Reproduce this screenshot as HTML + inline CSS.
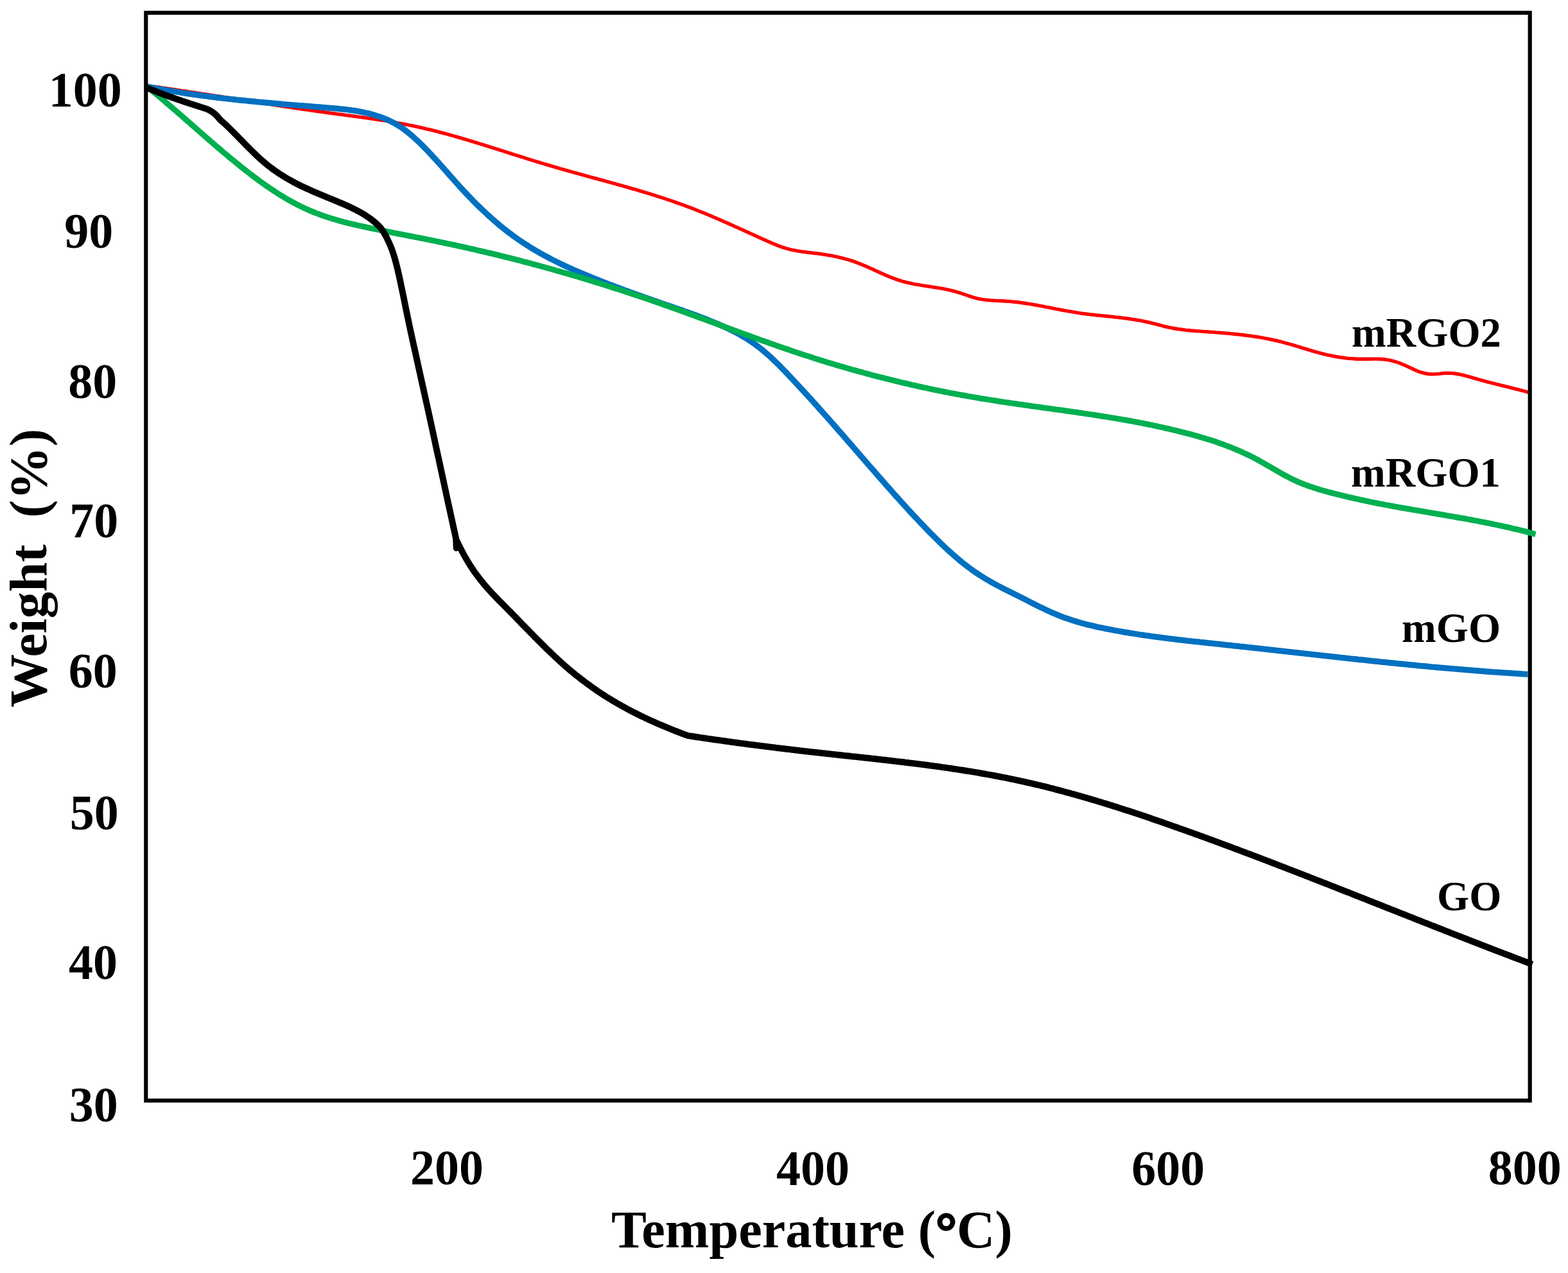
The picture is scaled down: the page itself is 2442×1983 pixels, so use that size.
<!DOCTYPE html>
<html lang="en">
<head>
<meta charset="utf-8">
<title>TGA curves: Weight (%) vs Temperature (°C)</title>
<style>
html,body{margin:0;padding:0;background:#ffffff;}
body{width:2442px;height:1983px;overflow:hidden;}
svg{display:block;}
</style>
</head>
<body>
<svg width="2442" height="1983" viewBox="0 0 2442 1983" role="img" aria-label="TGA curves of GO, mGO, mRGO1 and mRGO2: Weight (%) versus Temperature (°C)">
<rect x="0" y="0" width="2442" height="1983" fill="#ffffff"/>
<defs><clipPath id="cl"><rect x="229.00" y="0" width="2151.50" height="1983"/></clipPath><clipPath id="cr"><rect x="229.00" y="0" width="2163.00" height="1983"/></clipPath></defs>
<g fill="none" stroke-linejoin="round" stroke-linecap="butt" clip-path="url(#cl)">
<path id="c-red" d="M228.1 133.3 L231.1 133.7 L234.1 134.1 L237.1 134.6 L240.1 135.0 L243.1 135.4 L246.1 135.8 L249.1 136.2 L252.1 136.7 L255.1 137.1 L258.1 137.5 L261.1 138.0 L264.1 138.4 L267.1 138.8 L270.1 139.3 L273.1 139.7 L276.1 140.2 L279.1 140.6 L282.1 141.1 L285.1 141.5 L288.1 142.0 L291.1 142.4 L294.1 142.9 L297.1 143.3 L300.1 143.8 L303.1 144.2 L306.1 144.7 L309.1 145.1 L312.1 145.6 L315.1 146.1 L318.1 146.5 L321.1 147.0 L324.1 147.4 L327.1 147.9 L330.1 148.4 L333.1 148.8 L336.1 149.3 L339.1 149.8 L342.1 150.2 L345.1 150.7 L348.1 151.2 L351.1 151.6 L354.1 152.1 L357.1 152.6 L360.2 153.1 L363.2 153.5 L366.2 154.0 L369.2 154.5 L372.2 154.9 L375.2 155.4 L378.2 155.9 L381.2 156.3 L384.2 156.8 L387.2 157.3 L390.2 157.7 L393.2 158.2 L396.2 158.7 L399.2 159.1 L402.2 159.6 L405.2 160.1 L408.2 160.5 L411.2 161.0 L414.2 161.5 L417.2 161.9 L420.2 162.4 L423.2 162.8 L426.2 163.3 L429.2 163.8 L432.2 164.2 L435.2 164.7 L438.2 165.1 L441.2 165.6 L444.2 166.0 L447.2 166.5 L450.2 166.9 L453.2 167.4 L456.2 167.8 L459.2 168.3 L462.2 168.7 L465.2 169.2 L468.2 169.6 L471.2 170.0 L474.2 170.5 L477.2 170.9 L480.2 171.3 L483.2 171.8 L486.2 172.2 L489.2 172.6 L492.2 173.1 L495.2 173.5 L498.2 173.9 L501.2 174.3 L504.2 174.7 L507.2 175.1 L510.3 175.5 L513.3 176.0 L516.3 176.4 L519.3 176.8 L522.3 177.2 L525.3 177.6 L528.3 178.0 L531.3 178.4 L534.3 178.8 L537.3 179.2 L540.3 179.6 L543.3 180.0 L546.3 180.4 L549.3 180.8 L552.3 181.2 L555.3 181.6 L558.3 182.0 L561.3 182.4 L564.3 182.8 L567.3 183.2 L570.3 183.7 L573.3 184.1 L576.3 184.5 L579.3 185.0 L582.3 185.4 L585.3 185.9 L588.3 186.3 L591.3 186.8 L594.3 187.2 L597.3 187.7 L600.3 188.2 L603.3 188.7 L606.3 189.2 L609.3 189.7 L612.3 190.2 L615.3 190.7 L618.3 191.3 L621.3 191.8 L624.3 192.4 L627.3 192.9 L630.3 193.5 L633.3 194.1 L636.3 194.7 L639.3 195.3 L642.3 195.9 L645.3 196.5 L648.3 197.2 L651.3 197.8 L654.3 198.5 L657.4 199.2 L660.4 199.8 L663.4 200.6 L666.4 201.3 L669.4 202.0 L672.4 202.7 L675.4 203.5 L678.4 204.2 L681.4 205.0 L684.4 205.8 L687.4 206.6 L690.4 207.4 L693.4 208.2 L696.4 209.0 L699.4 209.8 L702.4 210.7 L705.4 211.5 L708.4 212.4 L711.4 213.2 L714.4 214.1 L717.4 214.9 L720.4 215.8 L723.4 216.7 L726.4 217.6 L729.4 218.5 L732.4 219.4 L735.4 220.3 L738.4 221.2 L741.4 222.1 L744.4 223.0 L747.4 224.0 L750.4 224.9 L753.4 225.8 L756.4 226.8 L759.4 227.7 L762.4 228.7 L765.4 229.6 L768.4 230.5 L771.4 231.5 L774.4 232.4 L777.4 233.4 L780.4 234.3 L783.4 235.3 L786.4 236.3 L789.4 237.2 L792.4 238.2 L795.4 239.1 L798.4 240.1 L801.4 241.0 L804.4 242.0 L807.5 242.9 L810.5 243.9 L813.5 244.8 L816.5 245.8 L819.5 246.7 L822.5 247.7 L825.5 248.6 L828.5 249.5 L831.5 250.5 L834.5 251.4 L837.5 252.3 L840.5 253.2 L843.5 254.1 L846.5 255.0 L849.5 255.9 L852.5 256.8 L855.5 257.7 L858.5 258.6 L861.5 259.5 L864.5 260.4 L867.5 261.2 L870.5 262.1 L873.5 263.0 L876.5 263.8 L879.5 264.7 L882.5 265.5 L885.5 266.4 L888.5 267.2 L891.5 268.0 L894.5 268.9 L897.5 269.7 L900.5 270.5 L903.5 271.4 L906.5 272.2 L909.5 273.0 L912.5 273.8 L915.5 274.6 L918.5 275.5 L921.5 276.3 L924.5 277.1 L927.5 277.9 L930.5 278.7 L933.5 279.6 L936.5 280.4 L939.5 281.2 L942.5 282.0 L945.5 282.8 L948.5 283.7 L951.5 284.5 L954.5 285.3 L957.6 286.1 L960.6 287.0 L963.6 287.8 L966.6 288.7 L969.6 289.5 L972.6 290.4 L975.6 291.2 L978.6 292.1 L981.6 292.9 L984.6 293.8 L987.6 294.7 L990.6 295.5 L993.6 296.4 L996.6 297.3 L999.6 298.2 L1002.6 299.1 L1005.6 300.0 L1008.6 300.9 L1011.6 301.8 L1014.6 302.8 L1017.6 303.7 L1020.6 304.6 L1023.6 305.6 L1026.6 306.6 L1029.6 307.5 L1032.6 308.5 L1035.6 309.5 L1038.6 310.5 L1041.6 311.5 L1044.6 312.5 L1047.6 313.5 L1050.6 314.6 L1053.6 315.6 L1056.6 316.7 L1059.6 317.8 L1062.6 318.8 L1065.6 319.9 L1068.6 321.1 L1071.6 322.2 L1074.6 323.3 L1077.6 324.4 L1080.6 325.6 L1083.6 326.8 L1086.6 328.0 L1089.6 329.2 L1092.6 330.4 L1095.6 331.6 L1098.6 332.8 L1101.6 334.1 L1104.6 335.3 L1107.7 336.6 L1110.7 337.9 L1113.7 339.1 L1116.7 340.4 L1119.7 341.7 L1122.7 343.0 L1125.7 344.4 L1128.7 345.7 L1131.7 347.0 L1134.7 348.3 L1137.7 349.7 L1140.7 351.0 L1143.7 352.4 L1146.7 353.7 L1149.7 355.1 L1152.7 356.4 L1155.7 357.8 L1158.7 359.1 L1161.7 360.5 L1164.7 361.8 L1167.7 363.2 L1170.7 364.6 L1173.7 365.9 L1176.7 367.3 L1179.7 368.7 L1182.7 370.0 L1185.7 371.4 L1188.7 372.7 L1191.7 374.1 L1194.7 375.4 L1197.7 376.8 L1200.7 378.1 L1203.7 379.4 L1206.7 380.6 L1209.7 381.9 L1212.7 383.0 L1215.7 384.1 L1218.7 385.2 L1221.7 386.1 L1224.7 387.0 L1227.7 387.8 L1230.7 388.6 L1233.7 389.3 L1236.7 389.9 L1239.7 390.4 L1242.7 391.0 L1245.7 391.4 L1248.7 391.9 L1251.7 392.3 L1254.7 392.7 L1257.8 393.1 L1260.8 393.5 L1263.8 393.8 L1266.8 394.2 L1269.8 394.5 L1272.8 394.9 L1275.8 395.3 L1278.8 395.7 L1281.8 396.2 L1284.8 396.6 L1287.8 397.1 L1290.8 397.6 L1293.8 398.1 L1296.8 398.7 L1299.8 399.3 L1302.8 399.9 L1305.8 400.6 L1308.8 401.3 L1311.8 402.0 L1314.8 402.8 L1317.8 403.6 L1320.8 404.5 L1323.8 405.4 L1326.8 406.4 L1329.8 407.4 L1332.8 408.4 L1335.8 409.6 L1338.8 410.7 L1341.8 411.9 L1344.8 413.2 L1347.8 414.5 L1350.8 415.8 L1353.8 417.1 L1356.8 418.5 L1359.8 419.8 L1362.8 421.2 L1365.8 422.6 L1368.8 423.9 L1371.8 425.3 L1374.8 426.6 L1377.8 427.9 L1380.8 429.2 L1383.8 430.5 L1386.8 431.7 L1389.8 432.9 L1392.8 434.0 L1395.8 435.1 L1398.8 436.1 L1401.8 437.1 L1404.8 438.0 L1407.9 438.8 L1410.9 439.6 L1413.9 440.3 L1416.9 441.0 L1419.9 441.7 L1422.9 442.3 L1425.9 442.8 L1428.9 443.4 L1431.9 443.9 L1434.9 444.4 L1437.9 444.9 L1440.9 445.3 L1443.9 445.8 L1446.9 446.2 L1449.9 446.7 L1452.9 447.1 L1455.9 447.6 L1458.9 448.1 L1461.9 448.6 L1464.9 449.1 L1467.9 449.6 L1470.9 450.2 L1473.9 450.8 L1476.9 451.4 L1479.9 452.1 L1482.9 452.8 L1485.9 453.6 L1488.9 454.4 L1491.9 455.3 L1494.9 456.2 L1497.9 457.2 L1500.9 458.3 L1503.9 459.3 L1506.9 460.3 L1509.9 461.4 L1512.9 462.3 L1515.9 463.3 L1518.9 464.1 L1521.9 464.9 L1524.9 465.5 L1527.9 466.1 L1530.9 466.6 L1533.9 467.0 L1536.9 467.3 L1539.9 467.6 L1542.9 467.9 L1545.9 468.1 L1548.9 468.3 L1551.9 468.4 L1554.9 468.6 L1558.0 468.7 L1561.0 468.8 L1564.0 469.0 L1567.0 469.2 L1570.0 469.4 L1573.0 469.6 L1576.0 469.9 L1579.0 470.2 L1582.0 470.5 L1585.0 470.8 L1588.0 471.2 L1591.0 471.6 L1594.0 472.0 L1597.0 472.5 L1600.0 473.0 L1603.0 473.4 L1606.0 473.9 L1609.0 474.4 L1612.0 475.0 L1615.0 475.5 L1618.0 476.1 L1621.0 476.6 L1624.0 477.2 L1627.0 477.8 L1630.0 478.4 L1633.0 478.9 L1636.0 479.5 L1639.0 480.1 L1642.0 480.7 L1645.0 481.3 L1648.0 481.9 L1651.0 482.5 L1654.0 483.0 L1657.0 483.6 L1660.0 484.1 L1663.0 484.7 L1666.0 485.2 L1669.0 485.7 L1672.0 486.2 L1675.0 486.7 L1678.0 487.2 L1681.0 487.6 L1684.0 488.1 L1687.0 488.5 L1690.0 488.9 L1693.0 489.3 L1696.0 489.6 L1699.0 490.0 L1702.0 490.3 L1705.0 490.6 L1708.1 491.0 L1711.1 491.3 L1714.1 491.6 L1717.1 491.9 L1720.1 492.2 L1723.1 492.5 L1726.1 492.8 L1729.1 493.1 L1732.1 493.4 L1735.1 493.7 L1738.1 494.1 L1741.1 494.4 L1744.1 494.7 L1747.1 495.1 L1750.1 495.5 L1753.1 495.9 L1756.1 496.3 L1759.1 496.7 L1762.1 497.1 L1765.1 497.6 L1768.1 498.0 L1771.1 498.6 L1774.1 499.1 L1777.1 499.6 L1780.1 500.2 L1783.1 500.8 L1786.1 501.5 L1789.1 502.2 L1792.1 502.9 L1795.1 503.6 L1798.1 504.4 L1801.1 505.2 L1804.1 505.9 L1807.1 506.7 L1810.1 507.5 L1813.1 508.3 L1816.1 509.0 L1819.1 509.7 L1822.1 510.3 L1825.1 510.9 L1828.1 511.5 L1831.1 512.0 L1834.1 512.5 L1837.1 512.9 L1840.1 513.3 L1843.1 513.7 L1846.1 514.1 L1849.1 514.4 L1852.1 514.7 L1855.1 515.0 L1858.2 515.2 L1861.2 515.5 L1864.2 515.7 L1867.2 515.9 L1870.2 516.1 L1873.2 516.4 L1876.2 516.6 L1879.2 516.8 L1882.2 517.0 L1885.2 517.2 L1888.2 517.4 L1891.2 517.6 L1894.2 517.9 L1897.2 518.1 L1900.2 518.3 L1903.2 518.6 L1906.2 518.8 L1909.2 519.1 L1912.2 519.3 L1915.2 519.6 L1918.2 519.9 L1921.2 520.2 L1924.2 520.5 L1927.2 520.8 L1930.2 521.1 L1933.2 521.5 L1936.2 521.8 L1939.2 522.2 L1942.2 522.6 L1945.2 523.0 L1948.2 523.4 L1951.2 523.8 L1954.2 524.3 L1957.2 524.7 L1960.2 525.2 L1963.2 525.7 L1966.2 526.2 L1969.2 526.8 L1972.2 527.3 L1975.2 527.9 L1978.2 528.5 L1981.2 529.2 L1984.2 529.8 L1987.2 530.5 L1990.2 531.2 L1993.2 531.9 L1996.2 532.7 L1999.2 533.5 L2002.2 534.3 L2005.2 535.1 L2008.3 536.0 L2011.3 536.9 L2014.3 537.7 L2017.3 538.6 L2020.3 539.5 L2023.3 540.4 L2026.3 541.4 L2029.3 542.3 L2032.3 543.2 L2035.3 544.1 L2038.3 545.0 L2041.3 545.9 L2044.3 546.8 L2047.3 547.6 L2050.3 548.5 L2053.3 549.3 L2056.3 550.1 L2059.3 550.9 L2062.3 551.7 L2065.3 552.4 L2068.3 553.1 L2071.3 553.7 L2074.3 554.3 L2077.3 554.9 L2080.3 555.5 L2083.3 556.0 L2086.3 556.5 L2089.3 556.9 L2092.3 557.3 L2095.3 557.7 L2098.3 558.1 L2101.3 558.4 L2104.3 558.6 L2107.3 558.8 L2110.3 559.0 L2113.3 559.2 L2116.3 559.3 L2119.3 559.3 L2122.3 559.3 L2125.3 559.3 L2128.3 559.3 L2131.3 559.2 L2134.3 559.2 L2137.3 559.1 L2140.3 559.1 L2143.3 559.1 L2146.3 559.2 L2149.3 559.3 L2152.3 559.5 L2155.3 559.8 L2158.4 560.2 L2161.4 560.6 L2164.4 561.2 L2167.4 561.9 L2170.4 562.6 L2173.4 563.5 L2176.4 564.5 L2179.4 565.5 L2182.4 566.7 L2185.4 567.9 L2188.4 569.2 L2191.4 570.6 L2194.4 572.0 L2197.4 573.4 L2200.4 574.8 L2203.4 576.2 L2206.4 577.5 L2209.4 578.7 L2212.4 579.8 L2215.4 580.7 L2218.4 581.4 L2221.4 582.0 L2224.4 582.5 L2227.4 582.7 L2230.4 582.9 L2233.4 582.8 L2236.4 582.6 L2239.4 582.4 L2242.4 582.1 L2245.4 581.7 L2248.4 581.4 L2251.4 581.2 L2254.4 581.1 L2257.4 581.2 L2260.4 581.4 L2263.4 581.6 L2266.4 582.0 L2269.4 582.5 L2272.4 583.0 L2275.4 583.7 L2278.4 584.3 L2281.4 585.1 L2284.4 585.9 L2287.4 586.7 L2290.4 587.5 L2293.4 588.4 L2296.4 589.3 L2299.4 590.1 L2302.4 591.0 L2305.4 591.8 L2308.5 592.7 L2311.5 593.5 L2314.5 594.3 L2317.5 595.1 L2320.5 595.9 L2323.5 596.6 L2326.5 597.4 L2329.5 598.2 L2332.5 598.9 L2335.5 599.7 L2338.5 600.5 L2341.5 601.2 L2344.5 601.9 L2347.5 602.7 L2350.5 603.4 L2353.5 604.2 L2356.5 604.9 L2359.5 605.7 L2362.5 606.4 L2365.5 607.2 L2368.5 608.0 L2371.5 608.7 L2374.5 609.5 L2377.5 610.3 L2380.5 611.1" stroke="#ff0000" stroke-width="5.40"/>
<path id="c-blue" d="M228.1 134.7 L231.1 135.3 L234.1 135.9 L237.1 136.5 L240.1 137.1 L243.1 137.6 L246.1 138.2 L249.1 138.7 L252.1 139.3 L255.1 139.8 L258.1 140.3 L261.1 140.8 L264.1 141.3 L267.1 141.8 L270.1 142.3 L273.1 142.8 L276.1 143.3 L279.1 143.8 L282.1 144.3 L285.1 144.7 L288.1 145.2 L291.1 145.6 L294.1 146.1 L297.1 146.5 L300.1 146.9 L303.1 147.4 L306.1 147.8 L309.1 148.2 L312.1 148.6 L315.1 149.0 L318.1 149.4 L321.1 149.8 L324.1 150.2 L327.1 150.6 L330.1 151.0 L333.1 151.3 L336.1 151.7 L339.1 152.1 L342.1 152.4 L345.1 152.8 L348.1 153.1 L351.1 153.5 L354.1 153.8 L357.1 154.2 L360.1 154.5 L363.1 154.8 L366.1 155.1 L369.1 155.5 L372.1 155.8 L375.1 156.1 L378.1 156.4 L381.1 156.7 L384.1 157.0 L387.1 157.3 L390.1 157.6 L393.1 157.9 L396.1 158.2 L399.1 158.5 L402.1 158.8 L405.1 159.0 L408.1 159.3 L411.1 159.6 L414.1 159.9 L417.1 160.1 L420.1 160.4 L423.1 160.7 L426.1 161.0 L429.1 161.2 L432.1 161.5 L435.1 161.7 L438.1 162.0 L441.1 162.3 L444.1 162.5 L447.1 162.8 L450.1 163.0 L453.1 163.3 L456.1 163.5 L459.1 163.8 L462.1 164.0 L465.1 164.3 L468.1 164.5 L471.1 164.7 L474.1 165.0 L477.1 165.2 L480.1 165.5 L483.1 165.7 L486.1 166.0 L489.1 166.2 L492.1 166.5 L495.1 166.7 L498.1 166.9 L501.1 167.2 L504.1 167.4 L507.1 167.7 L510.1 167.9 L513.1 168.2 L516.1 168.4 L519.1 168.7 L522.1 168.9 L525.1 169.2 L528.1 169.5 L531.1 169.8 L534.1 170.1 L537.1 170.4 L540.1 170.8 L543.1 171.2 L546.1 171.6 L549.1 172.0 L552.1 172.4 L555.1 172.9 L558.1 173.4 L561.1 174.0 L564.1 174.6 L567.1 175.2 L570.1 175.9 L573.1 176.6 L576.1 177.3 L579.1 178.1 L582.1 179.0 L585.1 179.9 L588.1 180.8 L591.1 181.9 L594.1 182.9 L597.1 184.0 L600.1 185.2 L603.1 186.5 L606.1 187.9 L609.1 189.3 L612.1 190.8 L615.1 192.4 L618.1 194.2 L621.1 196.0 L624.1 198.0 L627.1 200.0 L630.1 202.2 L633.1 204.5 L636.1 206.9 L639.1 209.4 L642.1 211.9 L645.1 214.6 L648.1 217.3 L651.1 220.1 L654.1 223.0 L657.1 225.9 L660.1 228.9 L663.1 232.0 L666.1 235.1 L669.1 238.3 L672.1 241.5 L675.1 244.8 L678.1 248.0 L681.1 251.4 L684.1 254.7 L687.1 258.0 L690.1 261.4 L693.1 264.8 L696.1 268.2 L699.1 271.6 L702.1 275.0 L705.1 278.4 L708.1 281.8 L711.1 285.1 L714.1 288.5 L717.1 291.8 L720.1 295.1 L723.1 298.3 L726.1 301.5 L729.1 304.7 L732.1 307.8 L735.1 310.9 L738.1 314.0 L741.1 317.0 L744.1 320.0 L747.1 322.9 L750.1 325.8 L753.2 328.7 L756.2 331.5 L759.2 334.3 L762.2 337.0 L765.2 339.7 L768.2 342.4 L771.2 345.0 L774.2 347.6 L777.2 350.1 L780.2 352.6 L783.2 355.0 L786.2 357.4 L789.2 359.8 L792.2 362.1 L795.2 364.3 L798.2 366.5 L801.2 368.7 L804.2 370.9 L807.2 373.0 L810.2 375.0 L813.2 377.1 L816.2 379.0 L819.2 381.0 L822.2 382.9 L825.2 384.8 L828.2 386.7 L831.2 388.5 L834.2 390.3 L837.2 392.0 L840.2 393.7 L843.2 395.4 L846.2 397.1 L849.2 398.7 L852.2 400.3 L855.2 401.9 L858.2 403.5 L861.2 405.0 L864.2 406.5 L867.2 408.0 L870.2 409.5 L873.2 411.0 L876.2 412.4 L879.2 413.8 L882.2 415.2 L885.2 416.6 L888.2 417.9 L891.2 419.3 L894.2 420.6 L897.2 421.9 L900.2 423.2 L903.2 424.5 L906.2 425.7 L909.2 427.0 L912.2 428.3 L915.2 429.5 L918.2 430.7 L921.2 432.0 L924.2 433.2 L927.2 434.4 L930.2 435.6 L933.2 436.8 L936.2 438.0 L939.2 439.2 L942.2 440.3 L945.2 441.5 L948.2 442.7 L951.2 443.8 L954.2 444.9 L957.2 446.1 L960.2 447.2 L963.2 448.3 L966.2 449.5 L969.2 450.6 L972.2 451.7 L975.2 452.8 L978.2 453.9 L981.2 455.0 L984.2 456.1 L987.2 457.1 L990.2 458.2 L993.2 459.3 L996.2 460.4 L999.2 461.4 L1002.2 462.5 L1005.2 463.6 L1008.2 464.6 L1011.2 465.7 L1014.2 466.7 L1017.2 467.8 L1020.2 468.8 L1023.2 469.9 L1026.2 470.9 L1029.2 472.0 L1032.2 473.0 L1035.2 474.0 L1038.2 475.1 L1041.2 476.1 L1044.2 477.1 L1047.2 478.2 L1050.2 479.2 L1053.2 480.3 L1056.2 481.3 L1059.2 482.3 L1062.2 483.4 L1065.2 484.5 L1068.2 485.5 L1071.2 486.6 L1074.2 487.7 L1077.2 488.7 L1080.2 489.8 L1083.2 490.9 L1086.2 492.0 L1089.2 493.2 L1092.2 494.3 L1095.2 495.5 L1098.2 496.6 L1101.2 497.8 L1104.2 499.0 L1107.2 500.2 L1110.2 501.4 L1113.2 502.7 L1116.2 503.9 L1119.2 505.2 L1122.2 506.5 L1125.2 507.9 L1128.2 509.2 L1131.2 510.6 L1134.2 512.0 L1137.2 513.5 L1140.2 514.9 L1143.2 516.5 L1146.2 518.0 L1149.2 519.6 L1152.2 521.3 L1155.2 523.0 L1158.2 524.8 L1161.2 526.6 L1164.2 528.4 L1167.2 530.4 L1170.2 532.4 L1173.2 534.4 L1176.2 536.6 L1179.2 538.8 L1182.2 541.1 L1185.2 543.4 L1188.2 545.9 L1191.2 548.4 L1194.2 551.0 L1197.2 553.7 L1200.2 556.4 L1203.2 559.2 L1206.2 562.1 L1209.2 565.0 L1212.2 567.9 L1215.2 571.0 L1218.2 574.0 L1221.2 577.1 L1224.2 580.2 L1227.2 583.4 L1230.2 586.5 L1233.2 589.7 L1236.2 592.9 L1239.2 596.1 L1242.2 599.3 L1245.2 602.6 L1248.2 605.8 L1251.2 609.1 L1254.2 612.3 L1257.2 615.6 L1260.2 618.9 L1263.2 622.2 L1266.2 625.5 L1269.2 628.9 L1272.2 632.2 L1275.2 635.6 L1278.2 638.9 L1281.2 642.3 L1284.2 645.7 L1287.2 649.0 L1290.2 652.4 L1293.2 655.8 L1296.2 659.2 L1299.2 662.6 L1302.2 666.1 L1305.2 669.5 L1308.2 672.9 L1311.2 676.3 L1314.2 679.8 L1317.2 683.2 L1320.2 686.7 L1323.2 690.1 L1326.2 693.6 L1329.2 697.0 L1332.2 700.5 L1335.2 704.0 L1338.2 707.4 L1341.2 710.9 L1344.2 714.3 L1347.2 717.8 L1350.2 721.3 L1353.2 724.7 L1356.2 728.2 L1359.3 731.6 L1362.3 735.1 L1365.3 738.5 L1368.3 742.0 L1371.3 745.4 L1374.3 748.8 L1377.3 752.2 L1380.3 755.7 L1383.3 759.1 L1386.3 762.4 L1389.3 765.8 L1392.3 769.2 L1395.3 772.6 L1398.3 775.9 L1401.3 779.3 L1404.3 782.6 L1407.3 785.9 L1410.3 789.2 L1413.3 792.5 L1416.3 795.8 L1419.3 799.0 L1422.3 802.3 L1425.3 805.5 L1428.3 808.7 L1431.3 811.9 L1434.3 815.0 L1437.3 818.2 L1440.3 821.3 L1443.3 824.4 L1446.3 827.5 L1449.3 830.6 L1452.3 833.6 L1455.3 836.6 L1458.3 839.6 L1461.3 842.5 L1464.3 845.5 L1467.3 848.3 L1470.3 851.2 L1473.3 854.0 L1476.3 856.8 L1479.3 859.5 L1482.3 862.2 L1485.3 864.9 L1488.3 867.5 L1491.3 870.1 L1494.3 872.6 L1497.3 875.1 L1500.3 877.5 L1503.3 879.8 L1506.3 882.2 L1509.3 884.4 L1512.3 886.6 L1515.3 888.8 L1518.3 890.9 L1521.3 892.9 L1524.3 894.9 L1527.3 896.8 L1530.3 898.7 L1533.3 900.6 L1536.3 902.4 L1539.3 904.1 L1542.3 905.9 L1545.3 907.6 L1548.3 909.2 L1551.3 910.9 L1554.3 912.5 L1557.3 914.0 L1560.3 915.6 L1563.3 917.1 L1566.3 918.7 L1569.3 920.2 L1572.3 921.7 L1575.3 923.2 L1578.3 924.7 L1581.3 926.2 L1584.3 927.7 L1587.3 929.2 L1590.3 930.7 L1593.3 932.2 L1596.3 933.7 L1599.3 935.2 L1602.3 936.8 L1605.3 938.3 L1608.3 939.8 L1611.3 941.3 L1614.3 942.8 L1617.3 944.3 L1620.3 945.8 L1623.3 947.2 L1626.3 948.7 L1629.3 950.1 L1632.3 951.5 L1635.3 952.9 L1638.3 954.2 L1641.3 955.5 L1644.3 956.8 L1647.3 958.0 L1650.3 959.3 L1653.3 960.4 L1656.3 961.6 L1659.3 962.7 L1662.3 963.7 L1665.3 964.7 L1668.3 965.7 L1671.3 966.7 L1674.3 967.6 L1677.3 968.5 L1680.3 969.4 L1683.3 970.3 L1686.3 971.1 L1689.3 971.9 L1692.3 972.7 L1695.3 973.4 L1698.3 974.1 L1701.3 974.8 L1704.3 975.5 L1707.3 976.2 L1710.3 976.9 L1713.3 977.5 L1716.3 978.1 L1719.3 978.8 L1722.3 979.4 L1725.3 979.9 L1728.3 980.5 L1731.3 981.1 L1734.3 981.7 L1737.3 982.2 L1740.3 982.8 L1743.3 983.3 L1746.3 983.8 L1749.3 984.4 L1752.3 984.9 L1755.3 985.4 L1758.3 985.9 L1761.3 986.4 L1764.3 986.8 L1767.3 987.3 L1770.3 987.8 L1773.3 988.2 L1776.3 988.7 L1779.3 989.1 L1782.3 989.6 L1785.3 990.0 L1788.3 990.4 L1791.3 990.9 L1794.3 991.3 L1797.3 991.7 L1800.3 992.1 L1803.3 992.5 L1806.3 992.9 L1809.3 993.3 L1812.3 993.7 L1815.3 994.0 L1818.3 994.4 L1821.3 994.8 L1824.3 995.1 L1827.3 995.5 L1830.3 995.9 L1833.3 996.2 L1836.3 996.6 L1839.3 996.9 L1842.3 997.3 L1845.3 997.6 L1848.3 998.0 L1851.3 998.3 L1854.3 998.6 L1857.3 999.0 L1860.3 999.3 L1863.3 999.6 L1866.3 999.9 L1869.3 1000.3 L1872.3 1000.6 L1875.3 1000.9 L1878.3 1001.2 L1881.3 1001.6 L1884.3 1001.9 L1887.3 1002.2 L1890.3 1002.5 L1893.3 1002.9 L1896.3 1003.2 L1899.3 1003.5 L1902.3 1003.8 L1905.3 1004.1 L1908.3 1004.5 L1911.3 1004.8 L1914.3 1005.1 L1917.3 1005.4 L1920.3 1005.8 L1923.3 1006.1 L1926.3 1006.4 L1929.3 1006.7 L1932.3 1007.1 L1935.3 1007.4 L1938.3 1007.7 L1941.3 1008.0 L1944.3 1008.4 L1947.3 1008.7 L1950.3 1009.0 L1953.3 1009.4 L1956.3 1009.7 L1959.3 1010.0 L1962.3 1010.4 L1965.3 1010.7 L1968.4 1011.0 L1971.4 1011.4 L1974.4 1011.7 L1977.4 1012.0 L1980.4 1012.4 L1983.4 1012.7 L1986.4 1013.0 L1989.4 1013.4 L1992.4 1013.7 L1995.4 1014.0 L1998.4 1014.4 L2001.4 1014.7 L2004.4 1015.0 L2007.4 1015.4 L2010.4 1015.7 L2013.4 1016.0 L2016.4 1016.4 L2019.4 1016.7 L2022.4 1017.0 L2025.4 1017.4 L2028.4 1017.7 L2031.4 1018.0 L2034.4 1018.4 L2037.4 1018.7 L2040.4 1019.0 L2043.4 1019.4 L2046.4 1019.7 L2049.4 1020.0 L2052.4 1020.4 L2055.4 1020.7 L2058.4 1021.0 L2061.4 1021.4 L2064.4 1021.7 L2067.4 1022.0 L2070.4 1022.4 L2073.4 1022.7 L2076.4 1023.0 L2079.4 1023.3 L2082.4 1023.7 L2085.4 1024.0 L2088.4 1024.3 L2091.4 1024.7 L2094.4 1025.0 L2097.4 1025.3 L2100.4 1025.6 L2103.4 1026.0 L2106.4 1026.3 L2109.4 1026.6 L2112.4 1026.9 L2115.4 1027.3 L2118.4 1027.6 L2121.4 1027.9 L2124.4 1028.2 L2127.4 1028.5 L2130.4 1028.9 L2133.4 1029.2 L2136.4 1029.5 L2139.4 1029.8 L2142.4 1030.1 L2145.4 1030.4 L2148.4 1030.7 L2151.4 1031.1 L2154.4 1031.4 L2157.4 1031.7 L2160.4 1032.0 L2163.4 1032.3 L2166.4 1032.6 L2169.4 1032.9 L2172.4 1033.2 L2175.4 1033.5 L2178.4 1033.8 L2181.4 1034.1 L2184.4 1034.4 L2187.4 1034.7 L2190.4 1035.0 L2193.4 1035.3 L2196.4 1035.6 L2199.4 1035.9 L2202.4 1036.2 L2205.4 1036.5 L2208.4 1036.8 L2211.4 1037.1 L2214.4 1037.3 L2217.4 1037.6 L2220.4 1037.9 L2223.4 1038.2 L2226.4 1038.5 L2229.4 1038.8 L2232.4 1039.0 L2235.4 1039.3 L2238.4 1039.6 L2241.4 1039.9 L2244.4 1040.1 L2247.4 1040.4 L2250.4 1040.7 L2253.4 1040.9 L2256.4 1041.2 L2259.4 1041.5 L2262.4 1041.7 L2265.4 1042.0 L2268.4 1042.2 L2271.4 1042.5 L2274.4 1042.7 L2277.4 1043.0 L2280.4 1043.2 L2283.4 1043.5 L2286.4 1043.7 L2289.4 1044.0 L2292.4 1044.2 L2295.4 1044.5 L2298.4 1044.7 L2301.4 1044.9 L2304.4 1045.2 L2307.4 1045.4 L2310.4 1045.6 L2313.4 1045.9 L2316.4 1046.1 L2319.4 1046.3 L2322.4 1046.5 L2325.4 1046.8 L2328.4 1047.0 L2331.4 1047.2 L2334.4 1047.4 L2337.4 1047.6 L2340.4 1047.8 L2343.4 1048.0 L2346.4 1048.2 L2349.4 1048.4 L2352.4 1048.6 L2355.4 1048.8 L2358.4 1049.0 L2361.4 1049.2 L2364.4 1049.4 L2367.4 1049.6 L2370.4 1049.8 L2373.4 1050.0 L2376.4 1050.2 L2379.4 1050.3" stroke="#0070c0" stroke-width="9.20"/>
</g>
<rect x="227.30" y="19.90" width="2155.40" height="1694.50" fill="none" stroke="#000" stroke-width="6.20"/>
<g fill="none" stroke-linejoin="round" stroke-linecap="butt" clip-path="url(#cr)">
<path id="c-green" d="M229.0 135.0 L232.0 137.4 L235.0 139.9 L238.0 142.3 L241.0 144.8 L244.0 147.3 L247.0 149.8 L250.0 152.3 L253.0 154.9 L256.0 157.4 L259.0 160.0 L262.0 162.5 L265.0 165.1 L268.0 167.7 L271.0 170.3 L274.1 172.9 L277.1 175.5 L280.1 178.1 L283.1 180.7 L286.1 183.4 L289.1 186.0 L292.1 188.6 L295.1 191.2 L298.1 193.9 L301.1 196.5 L304.1 199.1 L307.1 201.8 L310.1 204.4 L313.1 207.0 L316.1 209.7 L319.1 212.3 L322.1 214.9 L325.1 217.5 L328.1 220.1 L331.1 222.7 L334.1 225.3 L337.1 227.9 L340.1 230.5 L343.1 233.0 L346.1 235.6 L349.1 238.1 L352.1 240.6 L355.1 243.2 L358.1 245.7 L361.2 248.2 L364.2 250.6 L367.2 253.1 L370.2 255.5 L373.2 258.0 L376.2 260.4 L379.2 262.8 L382.2 265.1 L385.2 267.5 L388.2 269.8 L391.2 272.1 L394.2 274.4 L397.2 276.6 L400.2 278.9 L403.2 281.1 L406.2 283.3 L409.2 285.4 L412.2 287.6 L415.2 289.7 L418.2 291.8 L421.2 293.8 L424.2 295.8 L427.2 297.8 L430.2 299.8 L433.2 301.7 L436.2 303.6 L439.2 305.4 L442.2 307.2 L445.2 309.0 L448.3 310.8 L451.3 312.5 L454.3 314.2 L457.3 315.8 L460.3 317.4 L463.3 319.0 L466.3 320.5 L469.3 322.0 L472.3 323.4 L475.3 324.8 L478.3 326.1 L481.3 327.5 L484.3 328.7 L487.3 330.0 L490.3 331.2 L493.3 332.4 L496.3 333.5 L499.3 334.6 L502.3 335.7 L505.3 336.7 L508.3 337.7 L511.3 338.7 L514.3 339.7 L517.3 340.6 L520.3 341.5 L523.3 342.4 L526.3 343.3 L529.3 344.1 L532.4 345.0 L535.4 345.8 L538.4 346.5 L541.4 347.3 L544.4 348.0 L547.4 348.8 L550.4 349.5 L553.4 350.2 L556.4 350.9 L559.4 351.6 L562.4 352.2 L565.4 352.9 L568.4 353.5 L571.4 354.2 L574.4 354.8 L577.4 355.5 L580.4 356.1 L583.4 356.7 L586.4 357.3 L589.4 357.9 L592.4 358.6 L595.4 359.2 L598.4 359.8 L601.4 360.4 L604.4 361.0 L607.4 361.6 L610.4 362.2 L613.4 362.8 L616.4 363.4 L619.5 364.0 L622.5 364.5 L625.5 365.1 L628.5 365.7 L631.5 366.3 L634.5 366.9 L637.5 367.5 L640.5 368.1 L643.5 368.7 L646.5 369.3 L649.5 369.9 L652.5 370.4 L655.5 371.0 L658.5 371.6 L661.5 372.2 L664.5 372.8 L667.5 373.4 L670.5 374.0 L673.5 374.6 L676.5 375.2 L679.5 375.9 L682.5 376.5 L685.5 377.1 L688.5 377.7 L691.5 378.3 L694.5 379.0 L697.5 379.6 L700.5 380.2 L703.5 380.9 L706.6 381.5 L709.6 382.2 L712.6 382.8 L715.6 383.5 L718.6 384.1 L721.6 384.8 L724.6 385.5 L727.6 386.1 L730.6 386.8 L733.6 387.5 L736.6 388.2 L739.6 388.9 L742.6 389.6 L745.6 390.3 L748.6 391.0 L751.6 391.7 L754.6 392.4 L757.6 393.1 L760.6 393.8 L763.6 394.5 L766.6 395.2 L769.6 396.0 L772.6 396.7 L775.6 397.4 L778.6 398.2 L781.6 398.9 L784.6 399.6 L787.6 400.4 L790.6 401.1 L793.7 401.9 L796.7 402.7 L799.7 403.4 L802.7 404.2 L805.7 405.0 L808.7 405.7 L811.7 406.5 L814.7 407.3 L817.7 408.1 L820.7 408.9 L823.7 409.7 L826.7 410.5 L829.7 411.3 L832.7 412.1 L835.7 412.9 L838.7 413.7 L841.7 414.5 L844.7 415.3 L847.7 416.2 L850.7 417.0 L853.7 417.8 L856.7 418.7 L859.7 419.5 L862.7 420.4 L865.7 421.2 L868.7 422.1 L871.7 422.9 L874.7 423.8 L877.8 424.6 L880.8 425.5 L883.8 426.4 L886.8 427.2 L889.8 428.1 L892.8 429.0 L895.8 429.9 L898.8 430.8 L901.8 431.7 L904.8 432.6 L907.8 433.5 L910.8 434.4 L913.8 435.3 L916.8 436.2 L919.8 437.1 L922.8 438.0 L925.8 439.0 L928.8 439.9 L931.8 440.8 L934.8 441.8 L937.8 442.7 L940.8 443.6 L943.8 444.6 L946.8 445.5 L949.8 446.5 L952.8 447.4 L955.8 448.4 L958.8 449.4 L961.8 450.3 L964.9 451.3 L967.9 452.3 L970.9 453.3 L973.9 454.2 L976.9 455.2 L979.9 456.2 L982.9 457.2 L985.9 458.2 L988.9 459.2 L991.9 460.2 L994.9 461.2 L997.9 462.3 L1000.9 463.3 L1003.9 464.3 L1006.9 465.3 L1009.9 466.3 L1012.9 467.4 L1015.9 468.4 L1018.9 469.5 L1021.9 470.5 L1024.9 471.5 L1027.9 472.6 L1030.9 473.6 L1033.9 474.7 L1036.9 475.8 L1039.9 476.8 L1042.9 477.9 L1045.9 479.0 L1048.9 480.0 L1052.0 481.1 L1055.0 482.2 L1058.0 483.3 L1061.0 484.4 L1064.0 485.4 L1067.0 486.5 L1070.0 487.6 L1073.0 488.7 L1076.0 489.8 L1079.0 490.9 L1082.0 492.0 L1085.0 493.1 L1088.0 494.2 L1091.0 495.3 L1094.0 496.4 L1097.0 497.5 L1100.0 498.6 L1103.0 499.7 L1106.0 500.8 L1109.0 501.9 L1112.0 503.0 L1115.0 504.1 L1118.0 505.2 L1121.0 506.3 L1124.0 507.5 L1127.0 508.6 L1130.0 509.7 L1133.0 510.8 L1136.0 511.9 L1139.1 513.0 L1142.1 514.1 L1145.1 515.2 L1148.1 516.3 L1151.1 517.4 L1154.1 518.5 L1157.1 519.6 L1160.1 520.7 L1163.1 521.8 L1166.1 522.8 L1169.1 523.9 L1172.1 525.0 L1175.1 526.1 L1178.1 527.2 L1181.1 528.3 L1184.1 529.4 L1187.1 530.4 L1190.1 531.5 L1193.1 532.6 L1196.1 533.6 L1199.1 534.7 L1202.1 535.8 L1205.1 536.8 L1208.1 537.9 L1211.1 538.9 L1214.1 540.0 L1217.1 541.0 L1220.1 542.0 L1223.1 543.1 L1226.2 544.1 L1229.2 545.1 L1232.2 546.2 L1235.2 547.2 L1238.2 548.2 L1241.2 549.2 L1244.2 550.2 L1247.2 551.2 L1250.2 552.2 L1253.2 553.2 L1256.2 554.1 L1259.2 555.1 L1262.2 556.1 L1265.2 557.1 L1268.2 558.0 L1271.2 559.0 L1274.2 559.9 L1277.2 560.9 L1280.2 561.8 L1283.2 562.7 L1286.2 563.7 L1289.2 564.6 L1292.2 565.5 L1295.2 566.4 L1298.2 567.3 L1301.2 568.2 L1304.2 569.1 L1307.2 570.0 L1310.2 570.9 L1313.3 571.7 L1316.3 572.6 L1319.3 573.5 L1322.3 574.3 L1325.3 575.2 L1328.3 576.1 L1331.3 576.9 L1334.3 577.7 L1337.3 578.6 L1340.3 579.4 L1343.3 580.2 L1346.3 581.0 L1349.3 581.9 L1352.3 582.7 L1355.3 583.5 L1358.3 584.3 L1361.3 585.1 L1364.3 585.8 L1367.3 586.6 L1370.3 587.4 L1373.3 588.2 L1376.3 588.9 L1379.3 589.7 L1382.3 590.4 L1385.3 591.2 L1388.3 591.9 L1391.3 592.7 L1394.3 593.4 L1397.4 594.1 L1400.4 594.9 L1403.4 595.6 L1406.4 596.3 L1409.4 597.0 L1412.4 597.7 L1415.4 598.4 L1418.4 599.1 L1421.4 599.8 L1424.4 600.4 L1427.4 601.1 L1430.4 601.8 L1433.4 602.5 L1436.4 603.1 L1439.4 603.8 L1442.4 604.4 L1445.4 605.1 L1448.4 605.7 L1451.4 606.3 L1454.4 607.0 L1457.4 607.6 L1460.4 608.2 L1463.4 608.8 L1466.4 609.4 L1469.4 610.0 L1472.4 610.6 L1475.4 611.2 L1478.4 611.8 L1481.4 612.4 L1484.5 612.9 L1487.5 613.5 L1490.5 614.1 L1493.5 614.6 L1496.5 615.2 L1499.5 615.7 L1502.5 616.3 L1505.5 616.8 L1508.5 617.4 L1511.5 617.9 L1514.5 618.4 L1517.5 618.9 L1520.5 619.4 L1523.5 619.9 L1526.5 620.5 L1529.5 621.0 L1532.5 621.4 L1535.5 621.9 L1538.5 622.4 L1541.5 622.9 L1544.5 623.4 L1547.5 623.8 L1550.5 624.3 L1553.5 624.8 L1556.5 625.2 L1559.5 625.7 L1562.5 626.1 L1565.5 626.6 L1568.5 627.0 L1571.6 627.5 L1574.6 627.9 L1577.6 628.4 L1580.6 628.8 L1583.6 629.2 L1586.6 629.7 L1589.6 630.1 L1592.6 630.5 L1595.6 631.0 L1598.6 631.4 L1601.6 631.8 L1604.6 632.2 L1607.6 632.7 L1610.6 633.1 L1613.6 633.5 L1616.6 633.9 L1619.6 634.3 L1622.6 634.7 L1625.6 635.2 L1628.6 635.6 L1631.6 636.0 L1634.6 636.4 L1637.6 636.8 L1640.6 637.2 L1643.6 637.7 L1646.6 638.1 L1649.6 638.5 L1652.6 638.9 L1655.6 639.3 L1658.7 639.8 L1661.7 640.2 L1664.7 640.6 L1667.7 641.0 L1670.7 641.5 L1673.7 641.9 L1676.7 642.3 L1679.7 642.8 L1682.7 643.2 L1685.7 643.6 L1688.7 644.1 L1691.7 644.5 L1694.7 645.0 L1697.7 645.4 L1700.7 645.9 L1703.7 646.3 L1706.7 646.8 L1709.7 647.2 L1712.7 647.7 L1715.7 648.2 L1718.7 648.7 L1721.7 649.1 L1724.7 649.6 L1727.7 650.1 L1730.7 650.6 L1733.7 651.1 L1736.7 651.6 L1739.7 652.1 L1742.8 652.6 L1745.8 653.1 L1748.8 653.7 L1751.8 654.2 L1754.8 654.7 L1757.8 655.3 L1760.8 655.8 L1763.8 656.3 L1766.8 656.9 L1769.8 657.5 L1772.8 658.0 L1775.8 658.6 L1778.8 659.2 L1781.8 659.8 L1784.8 660.4 L1787.8 661.0 L1790.8 661.6 L1793.8 662.2 L1796.8 662.9 L1799.8 663.5 L1802.8 664.1 L1805.8 664.8 L1808.8 665.4 L1811.8 666.1 L1814.8 666.8 L1817.8 667.5 L1820.8 668.2 L1823.8 668.9 L1826.8 669.6 L1829.9 670.3 L1832.9 671.0 L1835.9 671.8 L1838.9 672.5 L1841.9 673.3 L1844.9 674.0 L1847.9 674.8 L1850.9 675.6 L1853.9 676.4 L1856.9 677.2 L1859.9 678.0 L1862.9 678.9 L1865.9 679.7 L1868.9 680.6 L1871.9 681.5 L1874.9 682.4 L1877.9 683.3 L1880.9 684.2 L1883.9 685.1 L1886.9 686.1 L1889.9 687.1 L1892.9 688.1 L1895.9 689.1 L1898.9 690.2 L1901.9 691.2 L1904.9 692.3 L1907.9 693.4 L1910.9 694.6 L1913.9 695.7 L1917.0 696.9 L1920.0 698.1 L1923.0 699.4 L1926.0 700.6 L1929.0 701.9 L1932.0 703.2 L1935.0 704.6 L1938.0 706.0 L1941.0 707.4 L1944.0 708.8 L1947.0 710.3 L1950.0 711.8 L1953.0 713.3 L1956.0 714.9 L1959.0 716.5 L1962.0 718.2 L1965.0 719.9 L1968.0 721.5 L1971.0 723.3 L1974.0 725.0 L1977.0 726.7 L1980.0 728.5 L1983.0 730.2 L1986.0 732.0 L1989.0 733.7 L1992.0 735.4 L1995.0 737.1 L1998.0 738.8 L2001.0 740.5 L2004.1 742.1 L2007.1 743.6 L2010.1 745.2 L2013.1 746.7 L2016.1 748.1 L2019.1 749.5 L2022.1 750.8 L2025.1 752.1 L2028.1 753.3 L2031.1 754.5 L2034.1 755.6 L2037.1 756.7 L2040.1 757.8 L2043.1 758.8 L2046.1 759.8 L2049.1 760.7 L2052.1 761.7 L2055.1 762.6 L2058.1 763.5 L2061.1 764.3 L2064.1 765.2 L2067.1 766.0 L2070.1 766.8 L2073.1 767.6 L2076.1 768.4 L2079.1 769.2 L2082.1 769.9 L2085.1 770.7 L2088.1 771.4 L2091.2 772.2 L2094.2 772.9 L2097.2 773.6 L2100.2 774.3 L2103.2 775.0 L2106.2 775.7 L2109.2 776.4 L2112.2 777.1 L2115.2 777.7 L2118.2 778.4 L2121.2 779.0 L2124.2 779.7 L2127.2 780.3 L2130.2 780.9 L2133.2 781.6 L2136.2 782.2 L2139.2 782.8 L2142.2 783.4 L2145.2 784.0 L2148.2 784.6 L2151.2 785.1 L2154.2 785.7 L2157.2 786.3 L2160.2 786.9 L2163.2 787.4 L2166.2 788.0 L2169.2 788.5 L2172.2 789.1 L2175.2 789.6 L2178.3 790.2 L2181.3 790.7 L2184.3 791.2 L2187.3 791.8 L2190.3 792.3 L2193.3 792.8 L2196.3 793.3 L2199.3 793.8 L2202.3 794.4 L2205.3 794.9 L2208.3 795.4 L2211.3 795.9 L2214.3 796.4 L2217.3 796.9 L2220.3 797.4 L2223.3 797.9 L2226.3 798.5 L2229.3 799.0 L2232.3 799.5 L2235.3 800.0 L2238.3 800.5 L2241.3 801.0 L2244.3 801.5 L2247.3 802.0 L2250.3 802.5 L2253.3 803.1 L2256.3 803.6 L2259.3 804.1 L2262.4 804.6 L2265.4 805.1 L2268.4 805.7 L2271.4 806.2 L2274.4 806.7 L2277.4 807.3 L2280.4 807.8 L2283.4 808.3 L2286.4 808.9 L2289.4 809.4 L2292.4 810.0 L2295.4 810.6 L2298.4 811.1 L2301.4 811.7 L2304.4 812.3 L2307.4 812.9 L2310.4 813.4 L2313.4 814.0 L2316.4 814.6 L2319.4 815.2 L2322.4 815.8 L2325.4 816.5 L2328.4 817.1 L2331.4 817.7 L2334.4 818.4 L2337.4 819.0 L2340.4 819.7 L2343.4 820.3 L2346.4 821.0 L2349.5 821.7 L2352.5 822.4 L2355.5 823.1 L2358.5 823.8 L2361.5 824.5 L2364.5 825.2 L2367.5 825.9 L2370.5 826.7 L2373.5 827.4 L2376.5 828.2 L2379.5 829.0 L2382.5 829.8 L2385.5 830.6 L2388.5 831.4 L2391.5 832.2" stroke="#00b050" stroke-width="9.00"/>
<path id="c-black" d="M229.0 136.8 L232.1 138.1 L235.2 139.4 L238.3 140.6 L241.4 141.8 L244.5 143.1 L247.6 144.3 L250.7 145.5 L253.8 146.6 L256.9 147.8 L260.0 149.0 L263.1 150.1 L266.2 151.2 L269.3 152.3 L272.4 153.4 L275.5 154.5 L278.6 155.6 L281.7 156.6 L284.8 157.7 L287.9 158.7 L291.0 159.8 L294.1 160.8 L297.2 161.8 L300.3 162.8 L303.4 163.8 L306.5 164.8 L309.6 165.8 L312.7 166.8 L315.8 167.7 L318.9 168.7 L322.3 169.9 L325.6 171.4 L329.0 173.3 L332.3 175.6 L335.7 178.4 L339.0 181.8 L342.4 186.0 L345.4 188.7 L348.4 191.4 L351.4 194.2 L354.5 197.1 L357.5 200.0 L360.5 203.0 L363.5 206.0 L366.5 209.0 L369.5 212.1 L372.6 215.2 L375.6 218.2 L378.6 221.3 L381.6 224.4 L384.6 227.5 L387.6 230.5 L390.7 233.5 L393.7 236.5 L396.7 239.4 L399.7 242.3 L402.7 245.1 L405.7 247.9 L408.8 250.6 L411.8 253.1 L414.8 255.7 L417.8 258.1 L420.8 260.4 L423.8 262.7 L426.9 264.9 L429.9 267.0 L432.9 269.1 L435.9 271.1 L438.9 273.0 L441.9 274.9 L445.0 276.7 L448.0 278.5 L451.0 280.2 L454.0 281.9 L457.0 283.5 L460.0 285.1 L463.1 286.7 L466.1 288.2 L469.1 289.7 L472.1 291.1 L475.1 292.5 L478.1 293.9 L481.2 295.3 L484.2 296.6 L487.2 298.0 L490.2 299.3 L493.2 300.5 L496.2 301.8 L499.3 303.1 L502.3 304.3 L505.3 305.6 L508.3 306.8 L511.3 308.1 L514.3 309.3 L517.4 310.5 L520.4 311.8 L523.4 313.0 L526.4 314.3 L529.4 315.6 L532.4 316.9 L535.4 318.2 L538.5 319.5 L541.5 320.9 L544.5 322.2 L547.5 323.7 L550.5 325.1 L553.5 326.6 L556.6 328.2 L559.6 329.8 L562.6 331.5 L565.6 333.3 L568.6 335.1 L571.6 337.1 L574.7 339.2 L577.7 341.4 L580.7 343.7 L583.7 346.1 L586.7 348.7 L589.7 351.7 L592.8 355.0 L595.8 359.1 L598.8 363.8 L601.8 369.4 L604.8 375.6 L607.8 382.4 L610.9 390.2 L613.9 399.4 L616.9 410.2 L619.9 422.3 L622.9 435.8 L625.9 450.2 L629.0 465.1 L632.0 480.1 L635.0 494.6 L638.0 508.8 L641.0 522.7 L644.0 536.4 L647.1 550.2 L650.1 563.8 L653.1 577.5 L656.1 591.1 L659.1 604.7 L662.1 618.4 L665.2 632.0 L668.2 645.7 L671.2 659.5 L674.2 673.3 L677.2 687.2 L680.2 701.2 L683.3 715.1 L686.3 729.1 L689.3 743.1 L692.3 757.0 L695.3 771.0 L698.3 784.9 L701.4 798.8 L704.4 812.6 L707.4 826.4 L710.4 840.1 L713.4 846.5 L716.4 852.7 L719.4 858.5 L722.4 864.1 L725.4 869.4 L728.4 874.5 L731.4 879.4 L734.4 884.0 L737.4 888.5 L740.4 892.8 L743.4 896.9 L746.5 900.8 L749.5 904.7 L752.5 908.4 L755.5 911.9 L758.5 915.4 L761.5 918.8 L764.5 922.1 L767.5 925.3 L770.5 928.5 L773.5 931.6 L776.5 934.7 L779.5 937.8 L782.5 940.8 L785.5 943.8 L788.5 946.8 L791.5 949.9 L794.5 952.9 L797.5 956.0 L800.5 959.1 L803.5 962.1 L806.5 965.2 L809.5 968.3 L812.5 971.4 L815.5 974.5 L818.5 977.6 L821.6 980.6 L824.6 983.7 L827.6 986.8 L830.6 989.8 L833.6 992.9 L836.6 995.9 L839.6 998.9 L842.6 1001.9 L845.6 1004.9 L848.6 1007.9 L851.6 1010.8 L854.6 1013.7 L857.6 1016.6 L860.6 1019.5 L863.6 1022.3 L866.6 1025.1 L869.6 1027.9 L872.6 1030.7 L875.6 1033.4 L878.6 1036.0 L881.6 1038.7 L884.6 1041.3 L887.6 1043.8 L890.7 1046.3 L893.7 1048.8 L896.7 1051.3 L899.7 1053.7 L902.7 1056.0 L905.7 1058.4 L908.7 1060.6 L911.7 1062.9 L914.7 1065.1 L917.7 1067.3 L920.7 1069.5 L923.7 1071.6 L926.7 1073.7 L929.7 1075.8 L932.7 1077.8 L935.7 1079.8 L938.7 1081.8 L941.7 1083.7 L944.7 1085.6 L947.7 1087.5 L950.7 1089.3 L953.7 1091.2 L956.7 1092.9 L959.7 1094.7 L962.8 1096.5 L965.8 1098.2 L968.8 1099.9 L971.8 1101.5 L974.8 1103.2 L977.8 1104.8 L980.8 1106.4 L983.8 1108.0 L986.8 1109.5 L989.8 1111.0 L992.8 1112.5 L995.8 1114.0 L998.8 1115.5 L1001.8 1116.9 L1004.8 1118.4 L1007.8 1119.8 L1010.8 1121.2 L1013.8 1122.5 L1016.8 1123.9 L1019.8 1125.2 L1022.8 1126.6 L1025.8 1127.9 L1028.8 1129.1 L1031.8 1130.4 L1034.9 1131.7 L1037.9 1132.9 L1040.9 1134.2 L1043.9 1135.4 L1046.9 1136.6 L1049.9 1137.8 L1052.9 1139.0 L1055.9 1140.2 L1058.9 1141.3 L1061.9 1142.5 L1064.9 1143.6 L1067.9 1144.8 L1070.9 1145.9 L1073.9 1146.4 L1076.9 1146.8 L1079.9 1147.3 L1082.9 1147.7 L1085.9 1148.2 L1088.9 1148.6 L1091.9 1149.1 L1094.9 1149.5 L1097.9 1150.0 L1100.9 1150.4 L1103.9 1150.9 L1106.9 1151.3 L1109.9 1151.7 L1113.0 1152.2 L1116.0 1152.6 L1119.0 1153.0 L1122.0 1153.4 L1125.0 1153.9 L1128.0 1154.3 L1131.0 1154.7 L1134.0 1155.1 L1137.0 1155.5 L1140.0 1156.0 L1143.0 1156.4 L1146.0 1156.8 L1149.0 1157.2 L1152.0 1157.6 L1155.0 1158.0 L1158.0 1158.4 L1161.0 1158.8 L1164.0 1159.2 L1167.0 1159.6 L1170.0 1160.0 L1173.0 1160.3 L1176.0 1160.7 L1179.0 1161.1 L1182.0 1161.5 L1185.0 1161.9 L1188.0 1162.3 L1191.0 1162.6 L1194.0 1163.0 L1197.1 1163.4 L1200.1 1163.8 L1203.1 1164.1 L1206.1 1164.5 L1209.1 1164.9 L1212.1 1165.2 L1215.1 1165.6 L1218.1 1166.0 L1221.1 1166.3 L1224.1 1166.7 L1227.1 1167.0 L1230.1 1167.4 L1233.1 1167.8 L1236.1 1168.1 L1239.1 1168.5 L1242.1 1168.8 L1245.1 1169.2 L1248.1 1169.5 L1251.1 1169.9 L1254.1 1170.2 L1257.1 1170.5 L1260.1 1170.9 L1263.1 1171.2 L1266.1 1171.6 L1269.1 1171.9 L1272.1 1172.2 L1275.1 1172.6 L1278.2 1172.9 L1281.2 1173.3 L1284.2 1173.6 L1287.2 1173.9 L1290.2 1174.2 L1293.2 1174.6 L1296.2 1174.9 L1299.2 1175.2 L1302.2 1175.6 L1305.2 1175.9 L1308.2 1176.2 L1311.2 1176.5 L1314.2 1176.9 L1317.2 1177.2 L1320.2 1177.5 L1323.2 1177.8 L1326.2 1178.2 L1329.2 1178.5 L1332.2 1178.8 L1335.2 1179.1 L1338.2 1179.5 L1341.2 1179.8 L1344.2 1180.1 L1347.2 1180.5 L1350.2 1180.8 L1353.2 1181.1 L1356.2 1181.4 L1359.3 1181.8 L1362.3 1182.1 L1365.3 1182.4 L1368.3 1182.8 L1371.3 1183.1 L1374.3 1183.5 L1377.3 1183.8 L1380.3 1184.1 L1383.3 1184.5 L1386.3 1184.8 L1389.3 1185.2 L1392.3 1185.5 L1395.3 1185.9 L1398.3 1186.2 L1401.3 1186.6 L1404.3 1186.9 L1407.3 1187.3 L1410.3 1187.7 L1413.3 1188.0 L1416.3 1188.4 L1419.3 1188.7 L1422.3 1189.1 L1425.3 1189.5 L1428.3 1189.9 L1431.3 1190.3 L1434.3 1190.6 L1437.3 1191.0 L1440.3 1191.4 L1443.4 1191.8 L1446.4 1192.2 L1449.4 1192.6 L1452.4 1193.0 L1455.4 1193.4 L1458.4 1193.8 L1461.4 1194.2 L1464.4 1194.6 L1467.4 1195.1 L1470.4 1195.5 L1473.4 1195.9 L1476.4 1196.4 L1479.4 1196.8 L1482.4 1197.2 L1485.4 1197.7 L1488.4 1198.1 L1491.4 1198.6 L1494.4 1199.1 L1497.4 1199.5 L1500.4 1200.0 L1503.4 1200.5 L1506.4 1201.0 L1509.4 1201.4 L1512.4 1201.9 L1515.4 1202.4 L1518.4 1202.9 L1521.4 1203.4 L1524.5 1203.9 L1527.5 1204.5 L1530.5 1205.0 L1533.5 1205.5 L1536.5 1206.1 L1539.5 1206.6 L1542.5 1207.1 L1545.5 1207.7 L1548.5 1208.3 L1551.5 1208.8 L1554.5 1209.4 L1557.5 1210.0 L1560.5 1210.6 L1563.5 1211.1 L1566.5 1211.7 L1569.5 1212.3 L1572.5 1213.0 L1575.5 1213.6 L1578.5 1214.2 L1581.5 1214.8 L1584.5 1215.5 L1587.5 1216.1 L1590.5 1216.8 L1593.5 1217.4 L1596.5 1218.1 L1599.5 1218.8 L1602.5 1219.5 L1605.6 1220.2 L1608.6 1220.9 L1611.6 1221.6 L1614.6 1222.3 L1617.6 1223.0 L1620.6 1223.7 L1623.6 1224.5 L1626.6 1225.2 L1629.6 1225.9 L1632.6 1226.7 L1635.6 1227.5 L1638.6 1228.2 L1641.6 1229.0 L1644.6 1229.8 L1647.6 1230.6 L1650.6 1231.4 L1653.6 1232.2 L1656.6 1233.0 L1659.6 1233.8 L1662.6 1234.6 L1665.6 1235.4 L1668.6 1236.3 L1671.6 1237.1 L1674.6 1237.9 L1677.6 1238.8 L1680.6 1239.6 L1683.6 1240.5 L1686.6 1241.3 L1689.7 1242.2 L1692.7 1243.1 L1695.7 1244.0 L1698.7 1244.9 L1701.7 1245.8 L1704.7 1246.6 L1707.7 1247.6 L1710.7 1248.5 L1713.7 1249.4 L1716.7 1250.3 L1719.7 1251.2 L1722.7 1252.1 L1725.7 1253.1 L1728.7 1254.0 L1731.7 1254.9 L1734.7 1255.9 L1737.7 1256.8 L1740.7 1257.8 L1743.7 1258.8 L1746.7 1259.7 L1749.7 1260.7 L1752.7 1261.7 L1755.7 1262.6 L1758.7 1263.6 L1761.7 1264.6 L1764.7 1265.6 L1767.7 1266.6 L1770.8 1267.6 L1773.8 1268.6 L1776.8 1269.6 L1779.8 1270.6 L1782.8 1271.6 L1785.8 1272.6 L1788.8 1273.6 L1791.8 1274.6 L1794.8 1275.7 L1797.8 1276.7 L1800.8 1277.7 L1803.8 1278.8 L1806.8 1279.8 L1809.8 1280.8 L1812.8 1281.9 L1815.8 1282.9 L1818.8 1284.0 L1821.8 1285.0 L1824.8 1286.1 L1827.8 1287.2 L1830.8 1288.2 L1833.8 1289.3 L1836.8 1290.4 L1839.8 1291.4 L1842.8 1292.5 L1845.8 1293.6 L1848.8 1294.6 L1851.8 1295.7 L1854.9 1296.8 L1857.9 1297.9 L1860.9 1299.0 L1863.9 1300.1 L1866.9 1301.1 L1869.9 1302.2 L1872.9 1303.3 L1875.9 1304.4 L1878.9 1305.5 L1881.9 1306.6 L1884.9 1307.7 L1887.9 1308.8 L1890.9 1309.9 L1893.9 1311.0 L1896.9 1312.1 L1899.9 1313.2 L1902.9 1314.4 L1905.9 1315.5 L1908.9 1316.6 L1911.9 1317.7 L1914.9 1318.8 L1917.9 1319.9 L1920.9 1321.1 L1923.9 1322.2 L1926.9 1323.3 L1929.9 1324.4 L1932.9 1325.6 L1936.0 1326.7 L1939.0 1327.8 L1942.0 1329.0 L1945.0 1330.1 L1948.0 1331.2 L1951.0 1332.4 L1954.0 1333.5 L1957.0 1334.7 L1960.0 1335.8 L1963.0 1336.9 L1966.0 1338.1 L1969.0 1339.2 L1972.0 1340.4 L1975.0 1341.5 L1978.0 1342.7 L1981.0 1343.8 L1984.0 1345.0 L1987.0 1346.1 L1990.0 1347.3 L1993.0 1348.5 L1996.0 1349.6 L1999.0 1350.8 L2002.0 1351.9 L2005.0 1353.1 L2008.0 1354.3 L2011.0 1355.4 L2014.0 1356.6 L2017.1 1357.8 L2020.1 1358.9 L2023.1 1360.1 L2026.1 1361.3 L2029.1 1362.4 L2032.1 1363.6 L2035.1 1364.8 L2038.1 1365.9 L2041.1 1367.1 L2044.1 1368.3 L2047.1 1369.5 L2050.1 1370.6 L2053.1 1371.8 L2056.1 1373.0 L2059.1 1374.2 L2062.1 1375.3 L2065.1 1376.5 L2068.1 1377.7 L2071.1 1378.9 L2074.1 1380.1 L2077.1 1381.2 L2080.1 1382.4 L2083.1 1383.6 L2086.1 1384.8 L2089.1 1386.0 L2092.1 1387.2 L2095.1 1388.3 L2098.1 1389.5 L2101.2 1390.7 L2104.2 1391.9 L2107.2 1393.1 L2110.2 1394.3 L2113.2 1395.5 L2116.2 1396.6 L2119.2 1397.8 L2122.2 1399.0 L2125.2 1400.2 L2128.2 1401.4 L2131.2 1402.6 L2134.2 1403.8 L2137.2 1405.0 L2140.2 1406.2 L2143.2 1407.3 L2146.2 1408.5 L2149.2 1409.7 L2152.2 1410.9 L2155.2 1412.1 L2158.2 1413.3 L2161.2 1414.5 L2164.2 1415.7 L2167.2 1416.9 L2170.2 1418.0 L2173.2 1419.2 L2176.2 1420.4 L2179.2 1421.6 L2182.3 1422.8 L2185.3 1424.0 L2188.3 1425.2 L2191.3 1426.4 L2194.3 1427.6 L2197.3 1428.7 L2200.3 1429.9 L2203.3 1431.1 L2206.3 1432.3 L2209.3 1433.5 L2212.3 1434.7 L2215.3 1435.9 L2218.3 1437.1 L2221.3 1438.2 L2224.3 1439.4 L2227.3 1440.6 L2230.3 1441.8 L2233.3 1443.0 L2236.3 1444.2 L2239.3 1445.3 L2242.3 1446.5 L2245.3 1447.7 L2248.3 1448.9 L2251.3 1450.1 L2254.3 1451.2 L2257.3 1452.4 L2260.3 1453.6 L2263.4 1454.8 L2266.4 1456.0 L2269.4 1457.1 L2272.4 1458.3 L2275.4 1459.5 L2278.4 1460.7 L2281.4 1461.8 L2284.4 1463.0 L2287.4 1464.2 L2290.4 1465.3 L2293.4 1466.5 L2296.4 1467.7 L2299.4 1468.8 L2302.4 1470.0 L2305.4 1471.2 L2308.4 1472.3 L2311.4 1473.5 L2314.4 1474.7 L2317.4 1475.8 L2320.4 1477.0 L2323.4 1478.2 L2326.4 1479.3 L2329.4 1480.5 L2332.4 1481.6 L2335.4 1482.8 L2338.4 1483.9 L2341.4 1485.1 L2344.4 1486.2 L2347.5 1487.4 L2350.5 1488.5 L2353.5 1489.7 L2356.5 1490.8 L2359.5 1492.0 L2362.5 1493.1 L2365.5 1494.3 L2368.5 1495.4 L2371.5 1496.5 L2374.5 1497.7 L2377.5 1498.8 L2380.5 1499.9 L2383.5 1501.1 L2386.5 1502.2" stroke="#000000" stroke-width="10.00"/>
<path d="M710.0 838 L710.6 854" stroke="#000" stroke-width="9.6" stroke-linecap="round"/>
</g>
<g font-family="'Liberation Serif', 'Times New Roman', Times, serif" font-weight="bold" fill="#000" style="white-space:pre">
<text id="y100" x="0" y="0" font-size="76.00" transform="translate(75.80 165.70) scale(1 1.02)" xml:space="preserve">100</text>
<text id="y90" x="0" y="0" font-size="76.00" transform="translate(100.30 386.10) scale(1 1.02)" xml:space="preserve">90</text>
<text id="y80" x="0" y="0" font-size="76.00" transform="translate(106.20 620.00) scale(1 1.02)" xml:space="preserve">80</text>
<text id="y70" x="0" y="0" font-size="76.00" transform="translate(108.30 837.20) scale(1 1.02)" xml:space="preserve">70</text>
<text id="y60" x="0" y="0" font-size="76.00" transform="translate(106.70 1070.50) scale(1 1.02)" xml:space="preserve">60</text>
<text id="y50" x="0" y="0" font-size="76.00" transform="translate(108.80 1291.50) scale(1 1.02)" xml:space="preserve">50</text>
<text id="y40" x="0" y="0" font-size="76.00" transform="translate(106.90 1525.20) scale(1 1.02)" xml:space="preserve">40</text>
<text id="y30" x="0" y="0" font-size="76.00" transform="translate(107.80 1746.50) scale(1 1.02)" xml:space="preserve">30</text>
<text id="x200" x="0" y="0" font-size="76.00" text-anchor="middle" transform="translate(695.90 1845.10) scale(1 1.02)" xml:space="preserve">200</text>
<text id="x400" x="0" y="0" font-size="76.00" text-anchor="middle" transform="translate(1265.90 1845.60) scale(1 1.02)" xml:space="preserve">400</text>
<text id="x600" x="0" y="0" font-size="76.00" text-anchor="middle" transform="translate(1819.20 1845.50) scale(1 1.02)" xml:space="preserve">600</text>
<text id="x800" x="0" y="0" font-size="76.00" text-anchor="middle" transform="translate(2374.70 1845.10) scale(1 1.02)" xml:space="preserve">800</text>
<text id="xt" x="952.00" y="1943.00" font-size="82.30" xml:space="preserve">Temperature (<tspan stroke="#000" stroke-width="3" stroke-linejoin="round" dy="3">°</tspan><tspan dy="-3">C)</tspan></text>
<text id="yt" x="71.90" y="1102.20" font-size="83.20" transform="rotate(-90 71.90 1102.20)" xml:space="preserve">Weight  (%)</text>
<text id="l2" x="0" y="0" font-size="64.50" transform="translate(2105.00 539.50) scale(1 1.025)" xml:space="preserve">mRGO2</text>
<text id="l1" x="0" y="0" font-size="64.50" transform="translate(2104.00 757.80) scale(1 1.025)" xml:space="preserve">mRGO1</text>
<text id="lm" x="0" y="0" font-size="64.50" transform="translate(2183.00 1000.00) scale(1 1.025)" xml:space="preserve">mGO</text>
<text id="lg" x="0" y="0" font-size="64.50" transform="translate(2238.00 1417.50) scale(1 1.025)" xml:space="preserve">GO</text>
</g>
</svg>
</body>
</html>
